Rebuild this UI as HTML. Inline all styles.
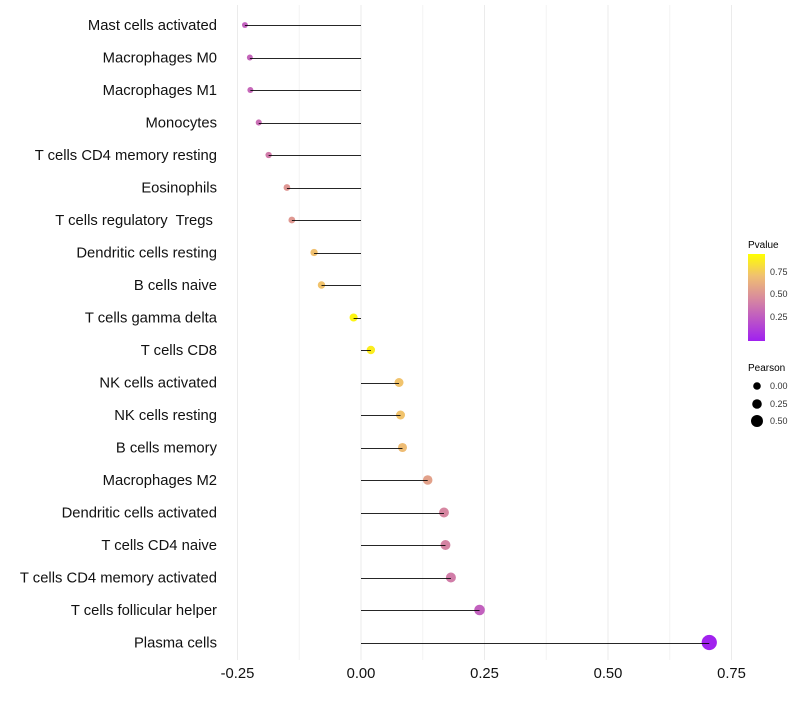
<!DOCTYPE html>
<html><head><meta charset="utf-8"><style>body{margin:0;background:#fff}svg{font-family:"Liberation Sans",sans-serif}#ylabels text{white-space:pre}</style></head>
<body>
<svg id="chart" width="800" height="700" xmlns="http://www.w3.org/2000/svg">
<g id="grid"></g>
<g id="marks"></g>
<g id="ylabels"></g>
<g id="xlabels"></g>
<g>
<text x="748" y="248" font-size="10">Pvalue</text>
<defs><linearGradient id="pg" x1="0" y1="1" x2="0" y2="0"><stop offset="0" stop-color="#a020f0"/><stop offset="0.5" stop-color="#d98c9c"/><stop offset="0.75" stop-color="#f0c070"/><stop offset="1" stop-color="#ffff00"/></linearGradient></defs>
<rect x="748" y="254" width="17" height="87" fill="url(#pg)"/>
<g font-size="9" fill="#333"><text x="770" y="275">0.75</text><text x="770" y="297">0.50</text><text x="770" y="320">0.25</text></g>
</g>
<g>
<text x="748" y="371" font-size="10">Pearson</text>
<circle cx="757" cy="386" r="3.8"/><circle cx="757" cy="404" r="4.8"/><circle cx="757" cy="421" r="6"/>
<g font-size="9" fill="#333"><text x="770" y="389">0.00</text><text x="770" y="407">0.25</text><text x="770" y="424">0.50</text></g>
</g>
</svg>
<script>
const categories=["Mast cells activated","Macrophages M0","Macrophages M1","Monocytes","T cells CD4 memory resting","Eosinophils","T cells regulatory  Tregs ","Dendritic cells resting","B cells naive","T cells gamma delta","T cells CD8","NK cells activated","NK cells resting","B cells memory","Macrophages M2","Dendritic cells activated","T cells CD4 naive","T cells CD4 memory activated","T cells follicular helper","Plasma cells"];
const pearson=[-0.235,-0.225,-0.224,-0.207,-0.187,-0.150,-0.140,-0.095,-0.080,-0.015,0.020,0.077,0.080,0.084,0.135,0.168,0.171,0.182,0.240,0.705];
const pvalues=[0.30,0.32,0.33,0.36,0.42,0.55,0.56,0.75,0.76,0.96,0.93,0.76,0.76,0.73,0.60,0.47,0.46,0.43,0.30,0.01];
const xticks=[-0.25,0,0.25,0.5,0.75];
const xtickLabels=["-0.25","0.00","0.25","0.50","0.75"];
const NS="http://www.w3.org/2000/svg";
const xs=v=>361+v*494;
const ys=i=>25+i*32.5;
const rs=v=>Math.max(2,4.1+5*v);
function lerp(a,b,t){return a+(b-a)*t}
function hex(h){return[1,3,5].map(i=>parseInt(h.substr(i,2),16))}
const stops=[[0,"#a020f0"],[0.5,"#d98c9c"],[0.75,"#f0c070"],[1,"#ffff00"]];
function col(p){for(let i=1;i<stops.length;i++){if(p<=stops[i][0]){const t=(p-stops[i-1][0])/(stops[i][0]-stops[i-1][0]);const a=hex(stops[i-1][1]),b=hex(stops[i][1]);return "rgb("+a.map((c,k)=>Math.round(lerp(c,b[k],t))).join(",")+")";}}return stops[3][1];}
function mk(t,at,p){const e=document.createElementNS(NS,t);for(const k in at)e.setAttribute(k,at[k]);p.appendChild(e);return e;}
const grid=document.getElementById('grid'),marks=document.getElementById('marks'),yl=document.getElementById('ylabels'),xl=document.getElementById('xlabels');
for(let v=-0.375;v<=0.876;v+=0.125){const x=xs(v);if(x<222||x>790)continue;const g=mk('line',{x1:x,x2:x,y1:5,y2:660,stroke:Math.abs(v*4-Math.round(v*4))<1e-6?"#ebebeb":"#f4f4f4","stroke-width":1},grid);

}
categories.forEach((c,i)=>{
const y=ys(i);
const pt=mk('circle',{cx:xs(pearson[i]),cy:y,r:rs(pearson[i]),fill:col(pvalues[i])},marks);


const ln=mk('line',{x1:xs(0),x2:xs(pearson[i]),y1:Math.round(y)+0.5,y2:Math.round(y)+0.5,stroke:"#000","stroke-width":1,"stroke-opacity":0.85},marks);


const t=mk('text',{x:217,y:y+5,"text-anchor":"end","font-size":14.8,fill:"#111"},yl);
t.textContent=c;


});
xticks.forEach((v,i)=>{const t=mk('text',{x:xs(v),y:678,"text-anchor":"middle","font-size":14.8,fill:"#111"},xl);
t.textContent=xtickLabels[i];

});
</script>
</body></html>
